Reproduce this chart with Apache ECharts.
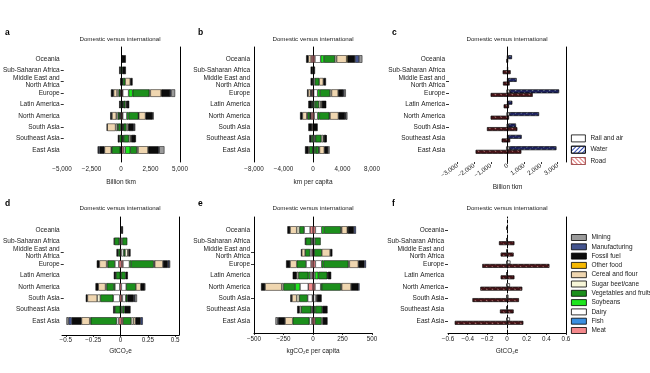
<!DOCTYPE html>
<html><head><meta charset="utf-8">
<script src="https://cdn.jsdelivr.net/npm/echarts@6/dist/echarts.min.js"></script>
<style>html,body{margin:0;padding:0;background:#fff}#c{width:650px;height:373px}</style>
</head><body><div id="c"></div><script>
// ---------- categories ----------
const regions = ['Oceania','Sub-Saharan Africa','Middle East and\nNorth Africa','Europe','Latin America','North America','South Asia','Southeast Asia','East Asia'];
// stacking order from zero outward
const sectors = ['Meat','Fish','Dairy','Soybeans','Vegetables and fruits','Sugar beet/cane','Cereal and flour','Other food','Fossil fuel','Manufacturing','Mining'];
const sectorColors = ['#f4898c','#3b8fe0','#ffffff','#1ee61e','#1c8f1c','#f7f6d8','#efd6b0','#f6b800','#0b0b0b','#44548f','#9a9a9a'];
const modes = ['Rail and air','Water','Road'];
const panelTitle = 'Domestic versus international';

// ---------- a: Billion tkm (rows = sectors, cols = regions) ----------
const tkmDomestic = [
  [0,0,0,80,0,100,60,0,50],
  [0,0,0,0,0,0,0,0,0],
  [0,0,0,60,0,60,60,0,40],
  [0,0,0,0,30,40,140,0,50],
  [0,100,40,140,80,140,140,200,720],
  [0,0,0,140,0,140,140,0,60],
  [0,0,0,290,0,370,720,0,575],
  [0,0,0,0,0,0,0,0,0],
  [40,130,100,230,120,150,30,145,430],
  [0,0,0,0,0,0,0,0,100],
  [0,0,0,0,0,0,0,0,40]
];
const tkmInternational = [
  [20,0,30,80,30,80,40,40,150],
  [0,0,0,0,0,0,0,0,0],
  [0,0,60,500,60,350,60,60,140],
  [0,0,0,350,60,140,60,80,430],
  [0,50,200,1430,150,860,230,430,575],
  [0,0,0,90,100,30,140,140,100],
  [20,0,430,920,30,575,50,60,860],
  [0,0,0,60,0,0,0,0,40],
  [300,295,200,720,200,575,430,350,860],
  [0,0,0,90,0,40,60,0,60],
  [0,0,0,340,0,80,80,40,445]
];
// ---------- b: km per capita ----------
const kmCapDomestic = [
  [270,0,0,180,0,270,0,0,50],
  [0,0,0,0,0,0,0,0,0],
  [0,0,0,100,0,100,0,0,0],
  [0,0,0,0,0,50,0,0,0],
  [0,0,70,60,130,320,0,250,450],
  [0,0,0,0,0,100,0,0,0],
  [360,0,0,320,0,590,130,0,130],
  [0,0,0,0,0,0,0,0,0],
  [300,320,250,135,500,320,500,250,450],
  [0,0,0,0,0,0,0,0,0],
  [0,0,0,0,0,0,0,0,0]
];
const kmCapInternational = [
  [270,0,50,90,50,180,0,30,80],
  [0,0,0,0,0,0,0,0,0],
  [770,0,200,540,150,450,0,200,100],
  [450,0,0,320,200,225,0,100,200],
  [1490,0,600,1360,400,1360,0,800,400],
  [225,0,0,200,250,100,0,250,100],
  [1360,0,550,900,150,1130,0,100,650],
  [135,0,0,0,0,0,0,0,0],
  [1000,270,360,680,600,900,630,320,520],
  [540,0,0,120,0,100,0,0,0],
  [450,0,0,240,0,220,0,50,200]
];
// ---------- c: Billion tkm by transport mode ----------
const modeTkmDomestic = [
  [20,10,10,60,10,60,40,10,80],
  [0,0,0,0,0,0,0,0,0],
  [60,280,260,1000,220,1000,1220,340,1900]
];
const modeTkmInternational = [
  [60,20,40,140,30,120,60,40,120],
  [200,0,500,2940,250,1760,440,800,2800],
  [20,180,120,1500,80,80,580,150,820]
];
// ---------- d: GtCO2e ----------
const gtDomestic = [
  [0,0.01,0.01,0.024,0,0.015,0.015,0,0.024],
  [0,0,0,0,0,0,0,0,0],
  [0,0.01,0,0.036,0,0.045,0.06,0,0.02],
  [0,0,0,0,0.01,0.01,0,0.01,0],
  [0,0.045,0.02,0.067,0.04,0.067,0.12,0.05,0.24],
  [0,0,0,0.01,0,0.01,0.03,0,0.01],
  [0,0,0,0.067,0,0.067,0.09,0,0.076],
  [0,0,0,0,0,0,0,0,0],
  [0.005,0.005,0.015,0.024,0.02,0.026,0.015,0.016,0.09],
  [0,0,0,0,0,0,0,0,0.03],
  [0,0,0,0,0,0,0,0,0.02]
];
const gtInternational = [
  [0,0,0,0.015,0,0,0.01,0,0.015],
  [0,0,0,0,0,0,0,0,0],
  [0,0.01,0.02,0.06,0,0.045,0.03,0.01,0],
  [0,0,0,0.015,0,0,0,0,0],
  [0,0.045,0.015,0.21,0.04,0.09,0.015,0.02,0.076],
  [0,0,0.025,0.01,0,0,0,0,0.02],
  [0,0,0.01,0.076,0,0.045,0,0,0.02],
  [0,0,0,0,0,0,0,0,0],
  [0.015,0,0.015,0.045,0.02,0.036,0.06,0.055,0.048],
  [0,0,0,0.012,0,0.005,0.01,0,0.02],
  [0,0,0,0.01,0,0,0.02,0,0]
];
// ---------- e: kgCO2e per capita ----------
const kgCapDomestic = [
  [25,5,10,17,10,40,5,5,11],
  [0,0,0,0,0,0,0,0,0],
  [50,10,15,42,14,70,40,10,20],
  [0,0,0,0,15,42,0,0,0],
  [40,48,42,79,85,99,71,85,141],
  [23,0,0,0,14,14,22,14,0],
  [56,0,28,56,0,141,40,0,65],
  [0,0,0,0,0,0,0,0,0],
  [23,5,7,34,34,34,14,20,56],
  [0,0,0,0,0,0,0,0,5],
  [0,0,0,0,0,0,0,0,20]
];
const kgCapInternational = [
  [20,5,5,20,5,17,5,5,17],
  [0,0,0,0,0,0,0,0,0],
  [54,12,5,54,12,48,20,5,0],
  [20,0,0,14,28,10,0,10,0],
  [141,48,65,212,76,160,0,58,56],
  [8,0,0,8,5,8,8,0,10],
  [48,0,70,76,0,79,0,0,0],
  [5,0,0,0,0,0,0,0,0],
  [51,0,19,51,28,62,40,45,40],
  [17,0,0,14,0,10,0,0,0],
  [0,0,0,0,0,0,0,0,0]
];
// ---------- f: GtCO2e by transport mode ----------
const modeGtDomestic = [
  [0.003,0.003,0.003,0.005,0.003,0.005,0.005,0.003,0.005],
  [0,0,0,0,0,0,0,0,0],
  [0,0.08,0.063,0.25,0.063,0.27,0.35,0.07,0.53]
];
const modeGtInternational = [
  [0.005,0.005,0.005,0.035,0.005,0.03,0.015,0.005,0.03],
  [0,0,0,0,0,0,0,0,0],
  [0,0.074,0.066,0.43,0.074,0.154,0.12,0.066,0.165]
];

// ---------- axis tick values ----------
const ticksA = [-5000,-2500,0,2500,5000];
const ticksB = [-8000,-4000,0,4000,8000];
const ticksC = [-3000,-2000,-1000,0,1000,2000,3000];
const ticksD = [-0.5,-0.25,0,0.25,0.5];
const ticksE = [-500,-250,0,250,500];
const ticksF = [-0.6,-0.4,-0.2,0,0.2,0.4,0.6];

const FONT = 'Liberation Sans';
const thousands = v => (v < 0 ? '\u2212' : '') + String(Math.abs(v)).replace(/\B(?=(\d{3})+(?!\d))/g, ',');
const decimal = v => { const s = String(parseFloat(Math.abs(v).toFixed(2))); return (v < 0 ? '\u2212' : '') + s; };

const modeStyles = [
  {color:'#ffffff', borderColor:'#000', borderWidth:0.6},
  {color:'#1e225e', borderColor:'#000', borderWidth:0.4, decal:{symbol:'rect', symbolSize:1, dashArrayX:[2,2], dashArrayY:[1,3], rotation:-Math.PI/4, color:'rgba(200,235,215,0.55)'}},
  {color:'#451317', borderColor:'#000', borderWidth:0.4, decal:{symbol:'rect', symbolSize:1, dashArrayX:[2,2], dashArrayY:[1,3], rotation:Math.PI/4, color:'rgba(245,190,180,0.55)'}}
];

const panels = [
  {letter:'a', left:62, width:118, ftop:47, fbot:162, rowTop:53.3, min:-5000, max:5000, ticks:ticksA, fmt:thousands, name:'Billion tkm', cx:120, ty:40, lx:5, ly:33, border:'right', bottomLine:false, showTick:false, tickIdx:[1,2,3,4,6,7], lblMargin:4.5, nameGap:17, kind:'sector', dom:tkmDomestic, int:tkmInternational},
  {letter:'b', left:254, width:118, ftop:47, fbot:162, rowTop:53.3, min:-8000, max:8000, ticks:ticksB, fmt:thousands, name:'km per capita', cx:313, ty:40, lx:198, ly:33, border:'left', bottomLine:false, showTick:false, tickIdx:[], lblMargin:4.5, nameGap:17, kind:'sector', dom:kmCapDomestic, int:kmCapInternational},
  {letter:'c', left:449, width:117, ftop:47, fbot:162, rowTop:53.3, min:-3500, max:3500, ticks:ticksC, fmt:thousands, name:'Billion tkm', cx:507, ty:40, lx:392, ly:33, border:'right', bottomLine:false, showTick:true, tickIdx:[2,3,4,6], lblMargin:3, nameGap:22, rotate:35, kind:'mode', dom:modeTkmDomestic, int:modeTkmInternational},
  {letter:'d', left:62, width:117, ftop:217, fbot:335, rowTop:224.3, min:-0.535, max:0.535, ticks:ticksD, fmt:decimal, name:'GtCO\u2082e', cx:120, ty:209, lx:5, ly:204, border:'right', bottomLine:true, showTick:true, tickIdx:[2,3,6], lblMargin:2.5, nameGap:12.5, kind:'sector', dom:gtDomestic, int:gtInternational},
  {letter:'e', left:254, width:118, ftop:217, fbot:333, rowTop:224.3, min:-500, max:500, ticks:ticksE, fmt:thousands, name:'kgCO\u2082e per capita', cx:313, ty:209, lx:198, ly:204, border:'left', bottomLine:true, showTick:true, tickIdx:[2,3,6], lblMargin:3.5, nameGap:15, kind:'sector', dom:kgCapDomestic, int:kgCapInternational},
  {letter:'f', left:448, width:118, ftop:217, fbot:333, rowTop:224.3, min:-0.6, max:0.6, ticks:ticksF, fmt:decimal, name:'GtCO\u2082e', cx:507, ty:209, lx:392, ly:204, border:'right', bottomLine:true, showTick:true, tickIdx:[0,3,5,6,8], lblMargin:3, nameGap:15, dashedZero:true, kind:'mode', dom:modeGtDomestic, int:modeGtInternational}
];

const grid = [], xAxis = [], yAxis = [], series = [], title = [];
const ROW_H = 102.4;
const blank = v => (v ? v : '-');

panels.forEach((p, i) => {
  const fg = grid.length;
  grid.push({left:p.left, width:p.width, top:p.ftop, height:p.fbot - p.ftop});
  const dg = grid.length;
  grid.push({left:p.left, width:p.width, top:p.rowTop, height:ROW_H});

  xAxis.push({type:'value', gridIndex:fg, min:p.min, max:p.max, position:'bottom',
    axisLine:{show:p.bottomLine, onZero:false, lineStyle:{color:'#000', width:1}},
    axisTick:{show:p.showTick, length:2, customValues:p.ticks, lineStyle:{color:'#000', width:0.8}},
    axisLabel:{customValues:p.ticks, formatter:p.fmt, fontSize:6.3, color:'#222', fontFamily:FONT, margin:p.lblMargin, rotate:p.rotate || 0},
    splitLine:{show:false},
    name:p.name, nameLocation:'middle', nameGap:p.nameGap, nameTextStyle:{fontSize:6.5, color:'#222', fontFamily:FONT}});
  const dx = xAxis.length;
  xAxis.push({type:'value', gridIndex:dg, min:p.min, max:p.max, show:false});

  yAxis.push({type:'value', gridIndex:fg, min:0, max:1, axisLine:{show:true, onZero:true, lineStyle:{color:'#000', width:1, type:p.dashedZero ? [3,2] : 'solid'}}, axisTick:{show:false}, axisLabel:{show:false}, splitLine:{show:false}});
  yAxis.push({type:'value', gridIndex:fg, min:0, max:1, position:p.border, axisLine:{show:true, onZero:false, lineStyle:{color:'#000', width:1}}, axisTick:{show:false}, axisLabel:{show:false}, splitLine:{show:false}});
  const dy = yAxis.length;
  yAxis.push({type:'category', gridIndex:dg, data:regions, inverse:true, position:'left',
    axisLine:{show:false, onZero:false},
    axisTick:{show:p.tickIdx.length > 0, alignWithLabel:true, length:3, interval:(idx) => p.tickIdx.indexOf(idx) >= 0, lineStyle:{color:'#000', width:0.8}},
    axisLabel:{fontSize:6.5, color:'#222', fontFamily:FONT, margin:4, lineHeight:7.3}});

  if (p.kind === 'sector') {
    sectors.forEach((name, s) => {
      const style = {color:sectorColors[s], borderColor:'#000', borderWidth:0.5};
      series.push({type:'bar', name, xAxisIndex:dx, yAxisIndex:dy, stack:'s' + i, barWidth:7.5, data:p.dom[s].map(v => v ? -v : '-'), itemStyle:style, emphasis:{disabled:true}});
      series.push({type:'bar', name, xAxisIndex:dx, yAxisIndex:dy, stack:'s' + i, barWidth:7.5, data:p.int[s].map(blank), itemStyle:style, emphasis:{disabled:true}});
    });
  } else {
    modes.forEach((name, m) => {
      const st = m === 2 ? 'low' + i : 'up' + i;
      series.push({type:'bar', name, xAxisIndex:dx, yAxisIndex:dy, stack:st, barWidth:3.6, barGap:'0%', data:p.dom[m].map(v => v ? -v : '-'), itemStyle:modeStyles[m], emphasis:{disabled:true}});
      series.push({type:'bar', name, xAxisIndex:dx, yAxisIndex:dy, stack:st, barWidth:3.6, barGap:'0%', data:p.int[m].map(blank), itemStyle:modeStyles[m], emphasis:{disabled:true}});
    });
  }

  title.push({text:panelTitle, left:p.cx, top:p.ty - 3.5, textAlign:'center', textStyle:{fontSize:6.2, fontWeight:'normal', color:'#222', fontFamily:FONT}, padding:0});
  title.push({text:p.letter, left:p.lx, top:p.ly - 5, textStyle:{fontSize:8.5, fontWeight:'bold', color:'#000', fontFamily:FONT}, padding:0});
});

const legend = [
  {orient:'vertical', left:571, top:134.5, itemWidth:14, itemHeight:7, itemGap:3.5, padding:0, selectedMode:false, icon:'rect',
   textStyle:{fontSize:6.5, color:'#222', fontFamily:FONT},
   data:[
     {name:'Rail and air', icon:'rect', itemStyle:{color:'#fff', borderColor:'#000', borderWidth:0.8}},
     {name:'Water', icon:'rect', itemStyle:{color:'#fff', borderColor:'#000', borderWidth:0.8, decal:{symbol:'rect', symbolSize:1, dashArrayX:[1,0], dashArrayY:[1,2], rotation:-Math.PI/4, color:'#2d46b0'}}},
     {name:'Road', icon:'rect', itemStyle:{color:'#fff', borderColor:'#a05050', borderWidth:0.8, decal:{symbol:'rect', symbolSize:1, dashArrayX:[1,0], dashArrayY:[1,2], rotation:Math.PI/4, color:'#e07a7a'}}}
   ]},
  {orient:'vertical', left:571, top:234, itemWidth:15, itemHeight:6, itemGap:2.3, padding:0, selectedMode:false, icon:'rect',
   textStyle:{fontSize:6.5, color:'#222', fontFamily:FONT},
   itemStyle:{borderColor:'#000', borderWidth:0.8},
   data:sectors.slice().reverse()}
];

const chart = echarts.init(document.getElementById('c'), null, {renderer:'canvas'});
chart.setOption({animation:false, backgroundColor:'#fff', textStyle:{fontFamily:FONT}, title, grid, xAxis, yAxis, series, legend});
</script></body></html>
